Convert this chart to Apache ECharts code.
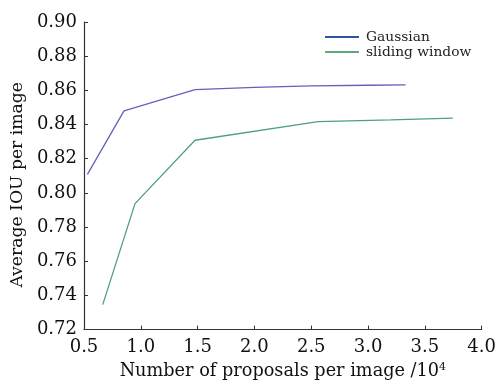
<!DOCTYPE html>
<html>
<head>
<meta charset="utf-8">
<script src="https://cdn.jsdelivr.net/npm/echarts@6/dist/echarts.min.js"></script>
<style>
html,body{margin:0;padding:0;background:#fff;}
#chart{width:499px;height:385px;}
</style>
</head>
<body>
<div id="chart"></div>
<script>
const seriesNames = ['Gaussian', 'sliding window'];
const gaussianX = [0.53, 0.852, 1.477, 2.0, 2.5, 3.0, 3.33];
const gaussianY = [0.8108, 0.848, 0.8604, 0.8617, 0.8626, 0.8630, 0.8632];
const slidingX = [0.665, 0.949, 1.477, 2.56, 3.2, 3.745];
const slidingY = [0.7346, 0.7937, 0.8308, 0.8417, 0.8427, 0.8437];
const xTicks = [0.5, 1.0, 1.5, 2.0, 2.5, 3.0, 3.5, 4.0];
const yTicks = [0.72, 0.74, 0.76, 0.78, 0.80, 0.82, 0.84, 0.86, 0.88, 0.90];

const FONT = 'DejaVu Serif';
const TXT = '#111';
const chart = echarts.init(document.getElementById('chart'), null, {renderer: 'canvas'});
const pair = (xs, ys) => xs.map((x, i) => [x, ys[i]]);

chart.setOption({
  animation: false,
  backgroundColor: '#fff',
  grid: {left: 84, right: 17, top: 22, bottom: 51, containLabel: false},
  legend: {
    orient: 'vertical',
    left: 320, top: 25,
    itemWidth: 34, itemHeight: 2, itemGap: 1,
    icon: 'rect',
    textStyle: {fontFamily: FONT, fontSize: 13.8, color: '#222', padding: [0, 0, 0, 2]},
    data: [
      {name: seriesNames[0], itemStyle: {color: '#2d55a5'}},
      {name: seriesNames[1], itemStyle: {color: '#5fa878'}}
    ]
  },
  xAxis: {
    type: 'value',
    min: xTicks[0], max: xTicks[xTicks.length - 1], interval: 0.5,
    name: 'Number of proposals per image /10{sup|4}',
    nameLocation: 'middle', nameGap: 27,
    nameTextStyle: {fontFamily: FONT, fontSize: 17.7, color: TXT,
      rich: {sup: {fontFamily: FONT, fontSize: 11, color: TXT, verticalAlign: 'top', padding: [0,0,8,0]}}},
    axisLine: {show: true, lineStyle: {color: '#333', width: 1.2}},
    axisTick: {show: true, inside: true, length: 4, lineStyle: {color: '#333'}},
    splitLine: {show: false},
    axisLabel: {fontFamily: FONT, fontSize: 18, color: TXT, margin: 9,
      formatter: v => v.toFixed(1)}
  },
  yAxis: {
    type: 'value',
    min: yTicks[0], max: yTicks[yTicks.length - 1], interval: 0.02,
    name: 'Average IOU per image',
    nameLocation: 'middle', nameGap: 57,
    nameTextStyle: {fontFamily: FONT, fontSize: 17.2, color: TXT, padding: [0, 18, 0, 0]},
    axisLine: {show: true, lineStyle: {color: '#333', width: 1.2}},
    axisTick: {show: true, inside: true, length: 4, lineStyle: {color: '#333'}},
    splitLine: {show: false},
    axisLabel: {fontFamily: FONT, fontSize: 18, color: TXT, margin: 7,
      formatter: v => v.toFixed(2)}
  },
  series: [
    {name: seriesNames[0], type: 'line', data: pair(gaussianX, gaussianY),
     showSymbol: false, symbol: 'none', color: '#6262bb',
     lineStyle: {width: 1.3, color: '#6262bb'}},
    {name: seriesNames[1], type: 'line', data: pair(slidingX, slidingY),
     showSymbol: false, symbol: 'none', color: '#4f9f82',
     lineStyle: {width: 1.3, color: '#4f9f82'}}
  ]
});
</script>
</body>
</html>
